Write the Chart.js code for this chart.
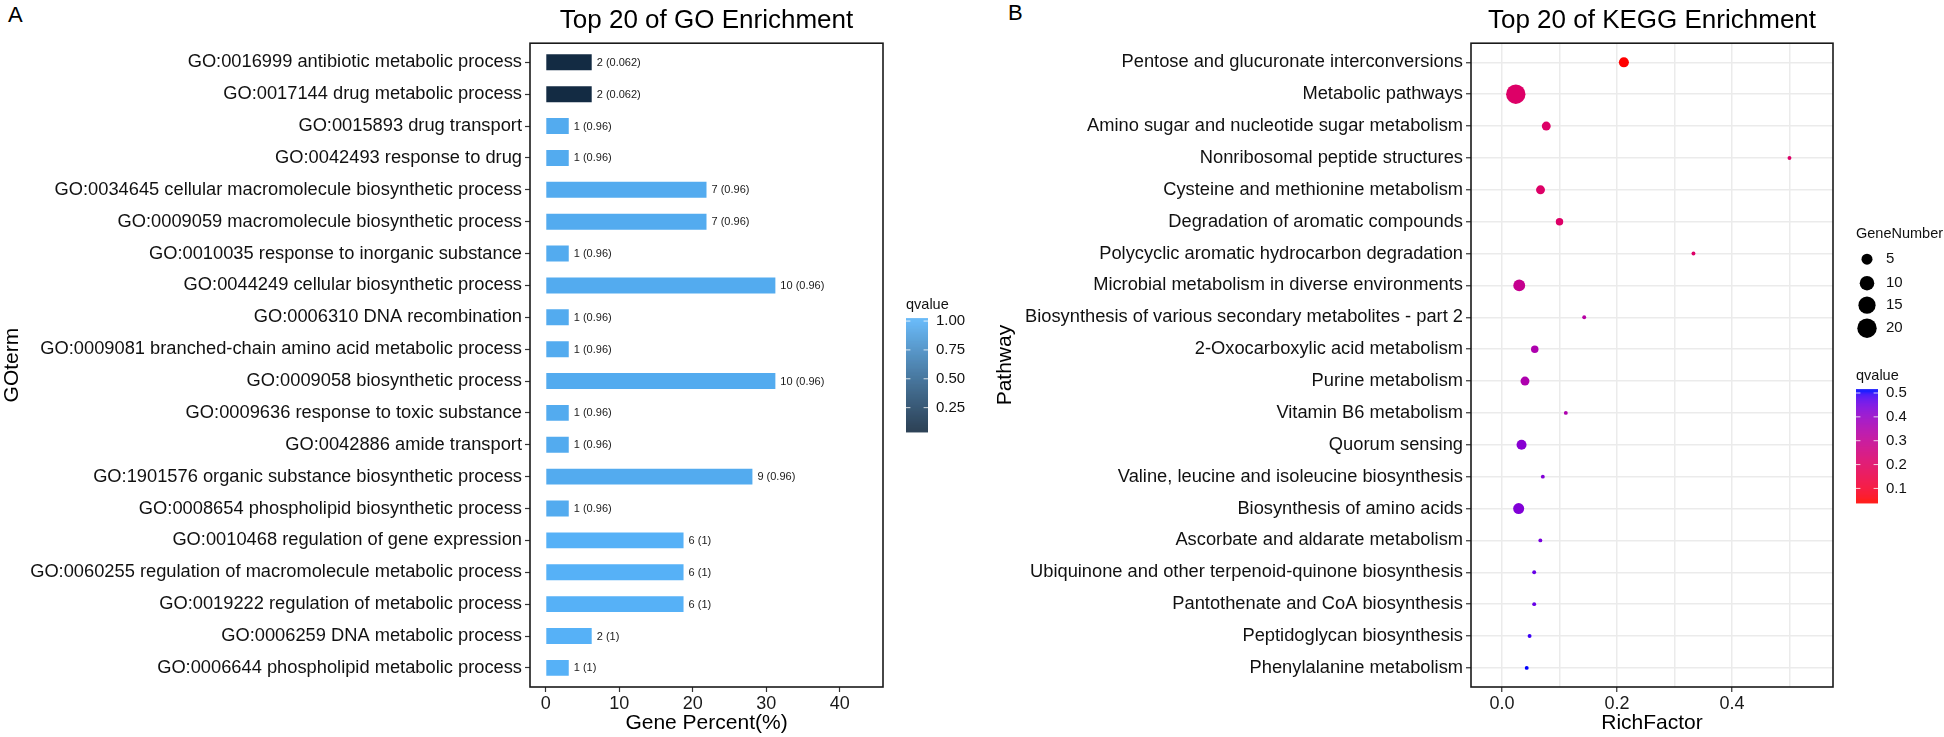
<!DOCTYPE html>
<html>
<head>
<meta charset="utf-8">
<script src="https://cdn.jsdelivr.net/npm/chart.js@4.4.1/dist/chart.umd.min.js"></script>
<style>
  body { margin: 0; background: #fff; width: 1944px; height: 737px; overflow: hidden; position: relative;
         font-family: "Liberation Sans", Arial, Helvetica, sans-serif; }
  .wrap { position: absolute; top: 0; height: 737px; }
  #wrapA { left: 0; width: 990px; }
  #wrapB { left: 980px; width: 964px; }
  .tag { position: absolute; font-size: 22px; line-height: 1; color: #000; }
</style>
</head>
<body>
<div class="tag" style="left:8px;top:4px">A</div>
<div class="tag" style="left:1008px;top:2px">B</div>
<div class="wrap" id="wrapA"><canvas id="goChart"></canvas></div>
<div class="wrap" id="wrapB"><canvas id="keggChart"></canvas></div>

<script>
const FONT = '"Liberation Sans", Arial, Helvetica, sans-serif';
Chart.defaults.font.family = FONT;
Chart.defaults.color = '#111';

// ---- panel A : GO enrichment ----
const goTerms = [
  'GO:0016999 antibiotic metabolic process',
  'GO:0017144 drug metabolic process',
  'GO:0015893 drug transport',
  'GO:0042493 response to drug',
  'GO:0034645 cellular macromolecule biosynthetic process',
  'GO:0009059 macromolecule biosynthetic process',
  'GO:0010035 response to inorganic substance',
  'GO:0044249 cellular biosynthetic process',
  'GO:0006310 DNA recombination',
  'GO:0009081 branched-chain amino acid metabolic process',
  'GO:0009058 biosynthetic process',
  'GO:0009636 response to toxic substance',
  'GO:0042886 amide transport',
  'GO:1901576 organic substance biosynthetic process',
  'GO:0008654 phospholipid biosynthetic process',
  'GO:0010468 regulation of gene expression',
  'GO:0060255 regulation of macromolecule metabolic process',
  'GO:0019222 regulation of metabolic process',
  'GO:0006259 DNA metabolic process',
  'GO:0006644 phospholipid metabolic process'
];
const goPercent = [6.25, 6.25, 3.125, 3.125, 21.875, 21.875, 3.125, 31.25, 3.125, 3.125,
                   31.25, 3.125, 3.125, 28.125, 3.125, 18.75, 18.75, 18.75, 6.25, 3.125];
const goCount = [2, 2, 1, 1, 7, 7, 1, 10, 1, 1, 10, 1, 1, 9, 1, 6, 6, 6, 2, 1];
const goQvalue = [0.062, 0.062, 0.96, 0.96, 0.96, 0.96, 0.96, 0.96, 0.96, 0.96,
                  0.96, 0.96, 0.96, 0.96, 0.96, 1, 1, 1, 1, 1];
const goQBreaks = [1.00, 0.75, 0.50, 0.25];

// ---- panel B : KEGG enrichment ----
const pathways = [
  'Pentose and glucuronate interconversions',
  'Metabolic pathways',
  'Amino sugar and nucleotide sugar metabolism',
  'Nonribosomal peptide structures',
  'Cysteine and methionine metabolism',
  'Degradation of aromatic compounds',
  'Polycyclic aromatic hydrocarbon degradation',
  'Microbial metabolism in diverse environments',
  'Biosynthesis of various secondary metabolites - part 2',
  '2-Oxocarboxylic acid metabolism',
  'Purine metabolism',
  'Vitamin B6 metabolism',
  'Quorum sensing',
  'Valine, leucine and isoleucine biosynthesis',
  'Biosynthesis of amino acids',
  'Ascorbate and aldarate metabolism',
  'Ubiquinone and other terpenoid-quinone biosynthesis',
  'Pantothenate and CoA biosynthesis',
  'Peptidoglycan biosynthesis',
  'Phenylalanine metabolism'
];
const richFactor = [0.212, 0.024, 0.077, 0.5, 0.067, 0.1, 0.333, 0.03, 0.143, 0.057,
                    0.04, 0.111, 0.034, 0.071, 0.029, 0.0667, 0.056, 0.056, 0.048, 0.043];
const geneNumber = [4, 20, 3, 1, 3, 2, 1, 6, 1, 2, 3, 1, 4, 1, 5, 1, 1, 1, 1, 1];
const keggQvalue = [0.05, 0.21, 0.21, 0.21, 0.21, 0.21, 0.21, 0.29, 0.33, 0.35,
                    0.35, 0.35, 0.42, 0.43, 0.43, 0.44, 0.46, 0.46, 0.49, 0.504];
const keggQBreaks = [0.5, 0.4, 0.3, 0.2, 0.1];
const sizeBreaks = [5, 10, 15, 20];

// colour ramps interpolated in Lab, like ggplot
function hexToRgb(h) { const n = parseInt(h.slice(1), 16); return [n >> 16 & 255, n >> 8 & 255, n & 255]; }
function toLin(c) { c /= 255; return c <= 0.04045 ? c / 12.92 : Math.pow((c + 0.055) / 1.055, 2.4); }
function fromLin(c) {
  c = c <= 0.0031308 ? 12.92 * c : 1.055 * Math.pow(c, 1 / 2.4) - 0.055;
  return Math.round(Math.max(0, Math.min(1, c)) * 255);
}
const WP = [0.95047, 1, 1.08883];
function rgbToLab(rgb) {
  const [r, g, b] = rgb.map(toLin);
  const X = r * 0.4124 + g * 0.3576 + b * 0.1805;
  const Y = r * 0.2126 + g * 0.7152 + b * 0.0722;
  const Z = r * 0.0193 + g * 0.1192 + b * 0.9505;
  const f = t => t > 0.008856 ? Math.cbrt(t) : 7.787 * t + 16 / 116;
  const fx = f(X / WP[0]), fy = f(Y / WP[1]), fz = f(Z / WP[2]);
  return [116 * fy - 16, 500 * (fx - fy), 200 * (fy - fz)];
}
function labToRgb(lab) {
  const fy = (lab[0] + 16) / 116, fx = fy + lab[1] / 500, fz = fy - lab[2] / 200;
  const inv = t => t ** 3 > 0.008856 ? t ** 3 : (t - 16 / 116) / 7.787;
  const X = inv(fx) * WP[0], Y = inv(fy) * WP[1], Z = inv(fz) * WP[2];
  const r = 3.2406 * X - 1.5372 * Y - 0.4986 * Z;
  const g = -0.9689 * X + 1.8758 * Y + 0.0415 * Z;
  const b = 0.0557 * X - 0.2040 * Y + 1.0570 * Z;
  return 'rgb(' + [r, g, b].map(fromLin).join(',') + ')';
}
function ramp(low, high, min, max) {
  const a = rgbToLab(hexToRgb(low)), b = rgbToLab(hexToRgb(high));
  return v => {
    const t = Math.max(0, Math.min(1, (v - min) / (max - min)));
    return labToRgb(a.map((x, i) => x + (b[i] - x) * t));
  };
}
const goQMin = Math.min(...goQvalue), goQMax = Math.max(...goQvalue);
const goColor = ramp('#132B43', '#56B1F7', goQMin, goQMax);
const kQMin = Math.min(...keggQvalue), kQMax = Math.max(...keggQvalue);
const keggColor = ramp('#FF0000', '#0000FF', kQMin, kQMax);

// point size: area scale as ggplot scale_size (range 1..6)
const gMin = Math.min(...geneNumber), gMax = Math.max(...geneNumber);
function dotRadius(n) {
  const s = 1 + 5 * Math.sqrt((n - gMin) / (gMax - gMin));
  return (3.1 * s + 0.8) / 2;
}

function drawColorbar(ctx, x, y, w, h, colorFn, min, max, breaks, title) {
  ctx.save();
  ctx.fillStyle = '#111';
  ctx.font = '14.5px ' + FONT;
  ctx.textAlign = 'left';
  ctx.textBaseline = 'middle';
  ctx.fillText(title, x, y - 13);
  for (let i = 0; i < h; i++) {
    const f = (i + 0.5) / h;
    const v = max - ((f - 0.025) / 0.95) * (max - min);
    ctx.fillStyle = colorFn(v);
    ctx.fillRect(x, y + i, w, 1.2);
  }
  ctx.font = '15px ' + FONT;
  breaks.forEach(b => {
    const ty = y + h * (0.025 + (max - b) / (max - min) * 0.95);
    ctx.strokeStyle = 'rgba(255,255,255,0.8)';
    ctx.lineWidth = 1;
    ctx.beginPath();
    ctx.moveTo(x, ty); ctx.lineTo(x + w / 5, ty);
    ctx.moveTo(x + w * 4 / 5, ty); ctx.lineTo(x + w, ty);
    ctx.stroke();
    ctx.fillStyle = '#111';
    const lbl = breaks === goQBreaks ? b.toFixed(2) : b.toFixed(1);
    ctx.fillText(lbl, x + w + 8, ty);
  });
  ctx.restore();
}

const frame = {
  id: 'frame',
  afterDraw(chart) {
    const { ctx, chartArea: a } = chart;
    ctx.save();
    ctx.strokeStyle = '#1a1a1a';
    ctx.lineWidth = 1.6;
    ctx.strokeRect(a.left, a.top, a.right - a.left, a.bottom - a.top);
    ctx.restore();
  }
};

const barLabels = {
  id: 'barLabels',
  afterDatasetsDraw(chart) {
    const ctx = chart.ctx;
    const meta = chart.getDatasetMeta(0);
    ctx.save();
    ctx.font = '11px ' + FONT;
    ctx.fillStyle = '#1a1a1a';
    ctx.textBaseline = 'middle';
    ctx.textAlign = 'left';
    meta.data.forEach((bar, i) => {
      ctx.fillText(goCount[i] + ' (' + goQvalue[i] + ')', bar.x + 5, bar.y + 0.5);
    });
    ctx.restore();
  }
};

const legendA = {
  id: 'legendA',
  afterDraw(chart) {
    const a = chart.chartArea;
    drawColorbar(chart.ctx, a.right + 23, a.top + 275, 22, 114, goColor, goQMin, goQMax, goQBreaks, 'qvalue');
  }
};

const legendB = {
  id: 'legendB',
  afterDraw(chart) {
    const ctx = chart.ctx;
    const a = chart.chartArea;
    const x = a.right + 23;
    ctx.save();
    ctx.fillStyle = '#111';
    ctx.font = '14.5px ' + FONT;
    ctx.textBaseline = 'middle';
    ctx.fillText('GeneNumber', x, a.top + 191);
    const keyY = [216, 240, 262, 285];
    sizeBreaks.forEach((n, i) => {
      ctx.fillStyle = '#000';
      ctx.beginPath();
      ctx.arc(x + 11, a.top + keyY[i], dotRadius(n), 0, Math.PI * 2);
      ctx.fill();
      ctx.fillStyle = '#111';
      ctx.font = '15px ' + FONT;
      ctx.fillText(String(n), x + 30, a.top + keyY[i]);
    });
    ctx.restore();
    drawColorbar(ctx, x, a.top + 346, 22, 114, keggColor, kQMin, kQMax, keggQBreaks, 'qvalue');
  }
};

const titleOpts = text => ({
  display: true, text, fullSize: false, color: '#000',
  font: { size: 26, weight: 'normal' }, padding: { top: 5, bottom: 7 }
});

new Chart(document.getElementById('goChart'), {
  type: 'bar',
  data: {
    datasets: [{
      data: goPercent.map((p, i) => ({ x: p, y: i })),
      backgroundColor: goQvalue.map(q => goColor(q)),
      barPercentage: 0.5,
      categoryPercentage: 1
    }]
  },
  options: {
    indexAxis: 'y',
    responsive: true,
    maintainAspectRatio: false,
    animation: false,
    layout: { padding: { left: 0, right: 107, top: 0, bottom: 0 } },
    plugins: {
      legend: { display: false },
      tooltip: { enabled: false },
      title: titleOpts('Top 20 of GO Enrichment')
    },
    scales: {
      x: {
        type: 'linear', min: -2.15, max: 45.9,
        ticks: { stepSize: 10, includeBounds: false, font: { size: 18 }, color: '#1a1a1a', padding: 1 },
        grid: { drawOnChartArea: false, tickLength: 5, tickColor: '#333', tickWidth: 1.2 },
        border: { display: false },
        title: { display: true, text: 'Gene Percent(%)', font: { size: 21 }, color: '#000', padding: { top: 0, bottom: 1 } },
        afterFit: s => { s.height = 50; }
      },
      y: {
        type: 'linear', reverse: true, min: -0.6, max: 19.6, offset: false,
        ticks: { stepSize: 1, includeBounds: false, autoSkip: false, callback: v => goTerms[v],
                 font: { size: 18.3 }, color: '#111', padding: 3 },
        grid: { offset: false, drawOnChartArea: false, tickLength: 5, tickColor: '#333', tickWidth: 1.2 },
        border: { display: false },
        title: { display: true, text: 'GOterm', font: { size: 21 }, color: '#000', padding: { top: 0, bottom: 0 } },
        afterFit: s => { s.width = 530; }
      }
    }
  },
  plugins: [frame, barLabels, legendA]
});

new Chart(document.getElementById('keggChart'), {
  type: 'bubble',
  data: {
    datasets: [{
      data: richFactor.map((r, i) => ({ x: r, y: i, r: dotRadius(geneNumber[i]) })),
      backgroundColor: keggQvalue.map(q => keggColor(q)),
      borderWidth: 0,
      hoverRadius: 0
    }]
  },
  options: {
    responsive: true,
    maintainAspectRatio: false,
    animation: false,
    layout: { padding: { left: 13, right: 111, top: 0, bottom: 0 } },
    plugins: {
      legend: { display: false },
      tooltip: { enabled: false },
      title: titleOpts('Top 20 of KEGG Enrichment')
    },
    scales: {
      x: {
        type: 'linear', min: -0.0539, max: 0.5757,
        ticks: {
          stepSize: 0.1, includeBounds: false, autoSkip: false,
          callback: v => (Math.round(v * 10) % 2 === 0 ? v.toFixed(1) : ''),
          font: { size: 18 }, color: '#1a1a1a', padding: 1
        },
        grid: {
          color: '#ebebeb', lineWidth: 1.5, tickLength: 5, tickWidth: 1.2,
          tickColor: c => (Math.round(c.tick.value * 10) % 2 === 0 ? '#333' : 'rgba(0,0,0,0)')
        },
        border: { display: false },
        title: { display: true, text: 'RichFactor', font: { size: 21 }, color: '#000', padding: { top: 0, bottom: 1 } },
        afterFit: s => { s.height = 50; }
      },
      y: {
        type: 'linear', reverse: true, min: -0.6, max: 19.6,
        ticks: { stepSize: 1, includeBounds: false, autoSkip: false, callback: v => pathways[v],
                 font: { size: 18.3 }, color: '#111', padding: 3 },
        grid: { color: '#ebebeb', lineWidth: 1.5, tickLength: 5, tickColor: '#333', tickWidth: 1.2 },
        border: { display: false },
        title: { display: true, text: 'Pathway', font: { size: 21 }, color: '#000', padding: { top: 0, bottom: 0 } },
        afterFit: s => { s.width = 478; }
      }
    }
  },
  plugins: [frame, legendB]
});
</script>
</body>
</html>
